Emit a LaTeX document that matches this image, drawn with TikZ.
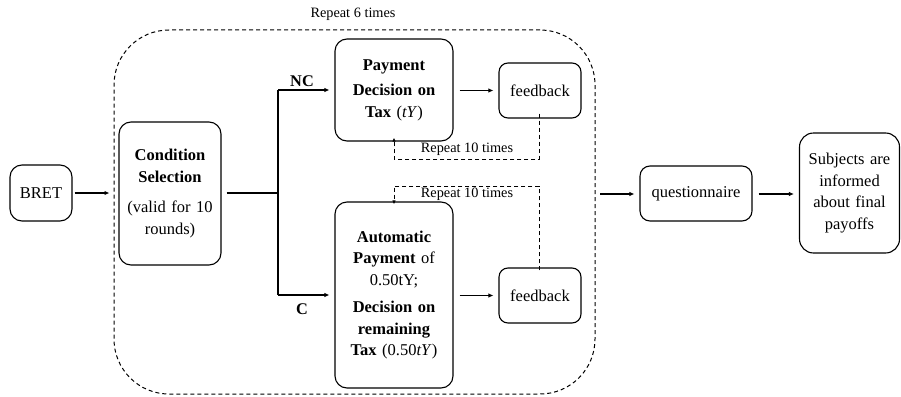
\documentclass[tikz,border=0pt]{standalone}
\usepackage{fontspec}
\setmainfont{Liberation Serif}
\usetikzlibrary{arrows.meta,calc}

\begin{document}
\begin{tikzpicture}[x=1pt,y=-1pt,
  box/.style={draw,line width=1.1pt,rounded corners=12pt,align=center,
    inner sep=0pt,font=\fontsize{16.5}{21.5}\selectfont},
  flow/.style={line width=1.4pt,-{Latex[length=5pt,width=4.5pt]}},
  loopline/.style={line width=1pt,dash pattern=on 4pt off 3pt},
  looparrow/.style={loopline,-{Latex[length=4pt,width=3.5pt]}},
  small/.style={font=\fontsize{14.3}{17}\selectfont,inner sep=0pt},
  lbl/.style={font=\fontsize{16.3}{20}\selectfont\bfseries,inner sep=0pt}]

\useasboundingbox (0,0) rectangle (901,396);

% outer repetition frame
\node[draw,loopline,rounded corners=55pt,minimum width=481pt,minimum height=364pt,
  inner sep=0pt] (frame) at (354.5,212) {};
\node[small] (rep6) at (353,14) {Repeat 6 times};

% boxes
\node[box,minimum width=62pt,minimum height=56pt] (bret) at (41,193) {BRET};
\node[box,minimum width=102pt,minimum height=143pt,text width=100pt] (cond) at (170,193.5)
  {\textbf{Condition}\\\textbf{Selection}\\[9pt](valid for 10\\rounds)};
\node[box,minimum width=118pt,minimum height=102pt,text width=114pt] (pay) at (394,90)
  {\textbf{Payment}\\[4pt]\textbf{Decision on}\\\textbf{Tax} (\textit{tY})};
\node[box,minimum width=118pt,minimum height=186pt,text width=114pt] (auto) at (394,295)
  {\textbf{Automatic}\\\textbf{Payment} of\\0.50tY;\\[6pt]\textbf{Decision on}\\\textbf{remaining}\\\textbf{Tax} (0.50\textit{tY})};
\node[box,rounded corners=9pt,minimum width=82pt,minimum height=55pt] (fb1) at (540,90.5) {feedback};
\node[box,rounded corners=9pt,minimum width=82pt,minimum height=55pt] (fb2) at (540,295.5) {feedback};
\node[box,rounded corners=10pt,minimum width=112pt,minimum height=55pt] (quest) at (696,193.5) {questionnaire};
\node[box,rounded corners=14pt,minimum width=100pt,minimum height=120pt,text width=98pt] (subj) at (849.5,193)
  {Subjects are\\informed\\about final\\payoffs};

% main flow
\draw[flow] ([xshift=2pt]bret.east) -- ([xshift=-4pt]bret.east -| frame.west);
\coordinate (split) at (278,193);
\draw[line width=1.6pt] ([xshift=5pt]cond.east |- split) -- (split);
\draw[flow] (split |- pay.west) -- ([xshift=-5pt]pay.west);
\draw[flow] (split |- auto.west) -- ([xshift=-5pt]auto.west);
\draw[line width=1.4pt] (split |- pay.west) -- (split |- auto.west);
\node[lbl] (nc) at (302,81) {NC};
\node[lbl] (c) at (302,309) {C};

\draw[flow] ([xshift=6pt]pay.east |- fb1.west) -- ([xshift=-5pt]fb1.west);
\draw[flow] ([xshift=6pt]auto.east |- fb2.west) -- ([xshift=-5pt]fb2.west);

\coordinate (out) at (600,194);
\draw[flow] (out) -- ([xshift=-5pt]quest.west |- out);
\draw[flow] ([xshift=6pt]quest.east |- out) -- ([xshift=-5pt]subj.west |- out);

% inner repetition loops
\coordinate (l1) at (539,159);
\draw[looparrow] ([yshift=5pt]fb1.south -| l1) -- (l1) -| ([yshift=4pt]pay.south);
\node[small] (rep10a) at (467,149.5) {Repeat 10 times};
\coordinate (l2) at (539,186);
\draw[looparrow] ([yshift=-3pt]fb2.north -| l2) -- (l2) -| ([yshift=-3pt]auto.north);
\node[small] (rep10b) at (467,194) {Repeat 10 times};
\end{tikzpicture}
\end{document}
